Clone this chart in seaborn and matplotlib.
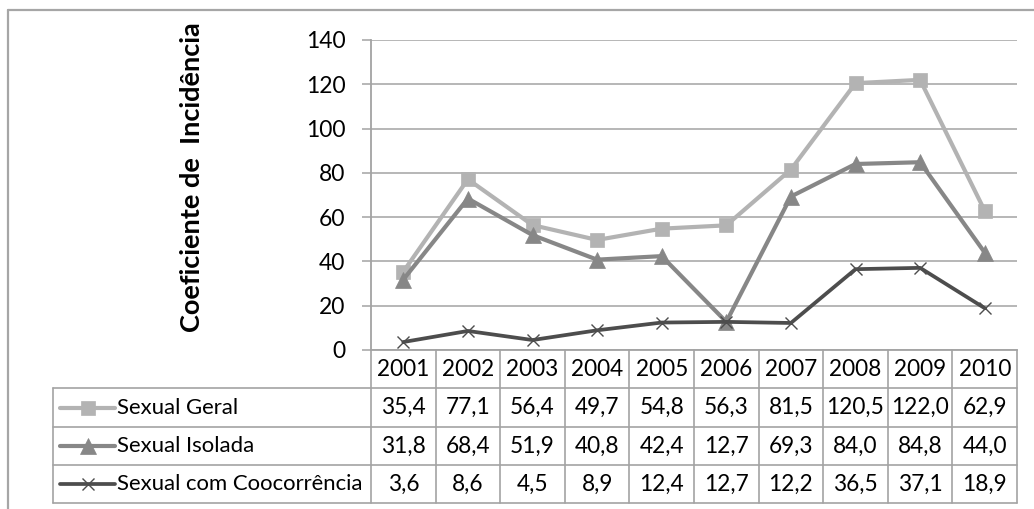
import matplotlib
matplotlib.use("Agg")
import matplotlib.pyplot as plt
import seaborn as sns
import pandas as pd
from matplotlib.lines import Line2D
from matplotlib.transforms import blended_transform_factory

# Incidence coefficients per year
years = [2001, 2002, 2003, 2004, 2005, 2006, 2007, 2008, 2009, 2010]
sexual_geral = [35.4, 77.1, 56.4, 49.7, 54.8, 56.3, 81.5, 120.5, 122.0, 62.9]
sexual_isolada = [31.8, 68.4, 51.9, 40.8, 42.4, 12.7, 69.3, 84.0, 84.8, 44.0]
sexual_coocorrencia = [3.6, 8.6, 4.5, 8.9, 12.4, 12.7, 12.2, 36.5, 37.1, 18.9]
series_names = ["Sexual Geral", "Sexual Isolada", "Sexual com Coocorrência"]
y_ticks = [0, 20, 40, 60, 80, 100, 120, 140]
y_label = "Coeficiente de  Incidência"

series_values = [sexual_geral, sexual_isolada, sexual_coocorrencia]
series_colors = ["#b3b3b3", "#878787", "#4d4d4d"]
series_markers = ["s", "^", "x"]
marker_sizes = [10, 11, 9]
marker_edge = [0.5, 0.5, 1.0]
line_widths = [3.0, 3.0, 2.7]

sns.set_theme(style="white")
plt.rcParams["font.family"] = ["Lato", "DejaVu Sans"]

W, H = 1034, 509
fig = plt.figure(figsize=(W / 100, H / 100), dpi=100)


def fx(px):
    return px / W


def fy(py):
    return 1 - py / H


GRAY = "#a3a3a3"
ax = fig.add_axes([fx(371), fy(350), fx(1017) - fx(371), fy(40) - fy(350)])

positions = list(range(len(years)))
for name, vals, col, mk, ms, mew, lw in zip(series_names, series_values, series_colors,
                                           series_markers, marker_sizes, marker_edge, line_widths):
    df = pd.DataFrame({"pos": positions, "valor": vals})
    sns.lineplot(data=df, x="pos", y="valor", ax=ax, color=col, linewidth=lw,
                 marker=mk, markersize=ms, markerfacecolor=col, markeredgecolor=col,
                 markeredgewidth=mew, clip_on=False, legend=False)

ax.set_xlim(-0.5, len(years) - 0.5)
ax.set_ylim(0, 140)
ax.set_yticks(y_ticks)
ax.set_yticklabels([str(t) for t in y_ticks], fontsize=16.5)
ax.set_xticks([])
ax.set_xlabel("")
ax.set_ylabel("")
ax.yaxis.grid(True, color=GRAY, linewidth=1.1)
ax.set_axisbelow(True)
ax.tick_params(axis="y", which="major", left=True, length=6.5, width=1.1,
               color=GRAY, pad=12, labelcolor="black")
for side in ["top", "right"]:
    ax.spines[side].set_visible(False)
for side in ["left", "bottom"]:
    ax.spines[side].set_color(GRAY)
    ax.spines[side].set_linewidth(1.3)

fig.text(fx(192), fy(177), y_label, rotation=90, ha="center", va="center",
         fontsize=19.5, fontweight="bold", color="black")

# Outer chart border
fig.add_artist(Line2D([fx(8), 1], [fy(10), fy(10)], transform=fig.transFigure,
                      color="#a6a6a6", linewidth=1.6))
fig.add_artist(Line2D([fx(8), fx(8)], [fy(10), 0], transform=fig.transFigure,
                      color="#a6a6a6", linewidth=1.6))

# Data table under the chart
tr = blended_transform_factory(ax.transData, fig.transFigure)
row_edges = [350, 388, 427, 465, 503]
label_left = fx(53)
axes_right = fx(1017)
tlw = 1.2

for k in range(len(years) + 1):
    fig.add_artist(Line2D([k - 0.5, k - 0.5], [fy(row_edges[0]), fy(row_edges[-1])],
                          transform=tr, color=GRAY, linewidth=tlw))
for r in row_edges[1:]:
    fig.add_artist(Line2D([label_left, axes_right], [fy(r), fy(r)],
                          transform=fig.transFigure, color=GRAY, linewidth=tlw))
fig.add_artist(Line2D([label_left, label_left], [fy(row_edges[1]), fy(row_edges[-1])],
                      transform=fig.transFigure, color=GRAY, linewidth=tlw))

TFS = 16.3
LFS = 15.9
hy = (row_edges[0] + row_edges[1]) / 2
for i, yr in enumerate(years):
    fig.text(i, fy(hy), str(yr), transform=tr, ha="center", va="center",
             fontsize=TFS, color="black")

for r, (name, vals, col, mk, ms, mew, lw) in enumerate(zip(series_names, series_values,
                                                         series_colors, series_markers,
                                                         marker_sizes, marker_edge, line_widths)):
    cy = fy((row_edges[r + 1] + row_edges[r + 2]) / 2)
    fig.add_artist(Line2D([fx(60), fx(115)], [cy, cy], transform=fig.transFigure,
                          color=col, linewidth=lw))
    fig.add_artist(Line2D([fx(88)], [cy], transform=fig.transFigure, color=col,
                          marker=mk, markersize=ms, markerfacecolor=col,
                          markeredgecolor=col, markeredgewidth=mew, linestyle="none"))
    fig.text(fx(117), cy, name, ha="left", va="center", fontsize=LFS, color="black")
    for i, v in enumerate(vals):
        fig.text(i, cy, f"{v:.1f}".replace(".", ","), transform=tr, ha="center",
                 va="center", fontsize=TFS, color="black")

fig.savefig("out.png", dpi=100, facecolor="white")
